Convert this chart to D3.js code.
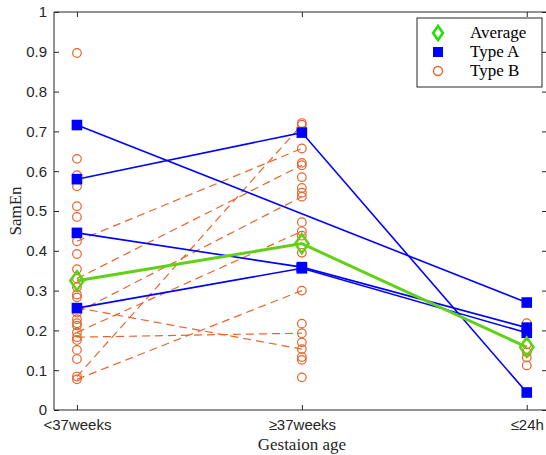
<!DOCTYPE html>
<html>
<head>
<meta charset="utf-8">
<script src="https://cdn.jsdelivr.net/npm/d3@7"></script>
<style>
  html, body { margin: 0; padding: 0; background: #fff; overflow: hidden; }
  svg { display: block; }
</style>
</head>
<body>
<svg id="chart" width="546" height="455"></svg>
<script>
// ---- data ----
const categories = ["<37weeks", "\u226537weeks", "\u226424h"];
const yTicks = [0, 0.1, 0.2, 0.3, 0.4, 0.5, 0.6, 0.7, 0.8, 0.9, 1];
const yTickLabels = ["0", "0.1", "0.2", "0.3", "0.4", "0.5", "0.6", "0.7", "0.8", "0.9", "1"];

const average = [0.325, 0.418, 0.158];

// Type A subjects: [<37weeks, >=37weeks, <=24h]
const typeA1 = [0.716, null, 0.270];
const typeA2 = [0.580, 0.697, 0.044];
const typeA3 = [0.445, 0.359, 0.207];
const typeA4 = [0.256, 0.356, 0.194];

// Type B subjects with two measurements (connected)
const typeB1 = [0.424, 0.657, null];
const typeB2 = [0.330, 0.615, null];
const typeB3 = [0.245, 0.536, null];
const typeB4 = [0.084, 0.717, null];
const typeB5 = [0.195, 0.449, null];
const typeB6 = [0.077, 0.300, null];
const typeB7 = [0.183, 0.193, null];
const typeB8 = [0.257, 0.153, null];

// Type B single measurements
const typeBLeft = [0.897, 0.631, 0.590, 0.562, 0.512, 0.485, 0.392, 0.354, 0.309, 0.290, 0.283, 0.228, 0.218, 0.212, 0.176, 0.151, 0.128];
const typeBMid = [0.721, 0.621, 0.585, 0.558, 0.546, 0.472, 0.438, 0.395, 0.217, 0.170, 0.133, 0.126, 0.082];
const typeBRight = [0.218, 0.165, 0.145, 0.132, 0.112];

const legendLabels = ["Average", "Type A", "Type B"];

// ---- layout ----
const svg = d3.select("#chart");
const mLeft = 54, mRight = 547, mTop = 12, mBottom = 410;
const axisColor = "#262626";
const blue = "#0000ff";
const orange = "#e8642c";
const green = "#62d016";
const sansFont = "'Liberation Sans', Arial, Helvetica, sans-serif";
const serifFont = "'Liberation Serif', 'Times New Roman', serif";

const x = d3.scaleLinear().domain([0.898, 3.09]).range([mLeft, mRight]);
const y = d3.scaleLinear().domain([0, 1]).range([mBottom, mTop]);

const typeA = [typeA1, typeA2, typeA3, typeA4];
const typeBPairs = [typeB1, typeB2, typeB3, typeB4, typeB5, typeB6, typeB7, typeB8];

const toPts = arr => arr.map((v, i) => ({i: i + 1, v})).filter(d => d.v !== null);
const line = d3.line().x(d => x(d.i)).y(d => y(d.v));

// clip
svg.append("defs").append("clipPath").attr("id", "clip")
  .append("rect").attr("x", mLeft).attr("y", mTop).attr("width", mRight - mLeft).attr("height", mBottom - mTop);

const plot = svg.append("g").attr("clip-path", "url(#clip)");

// Type B dashed lines
typeBPairs.forEach(s => {
  plot.append("path").datum(toPts(s)).attr("d", line)
    .attr("fill", "none").attr("stroke", orange).attr("stroke-width", 1.2)
    .attr("stroke-dasharray", "8,5");
});
// Type B circles
const bPts = [];
typeBPairs.forEach(s => toPts(s).forEach(p => bPts.push(p)));
typeBLeft.forEach(v => bPts.push({i: 1, v}));
typeBMid.forEach(v => bPts.push({i: 2, v}));
typeBRight.forEach(v => bPts.push({i: 3, v}));
plot.selectAll("circle.b").data(bPts).enter().append("circle")
  .attr("cx", d => x(d.i)).attr("cy", d => y(d.v)).attr("r", 4.3)
  .attr("fill", "none").attr("stroke", orange).attr("stroke-width", 1.2);

// Type A lines and squares
typeA.forEach(s => {
  const pts = toPts(s);
  plot.append("path").datum(pts).attr("d", line)
    .attr("fill", "none").attr("stroke", blue).attr("stroke-width", 1.6);
  plot.selectAll(null).data(pts).enter().append("rect")
    .attr("x", d => x(d.i) - 5.3).attr("y", d => y(d.v) - 5.3)
    .attr("width", 10.6).attr("height", 10.6).attr("fill", blue);
});

// Average
const avgPts = toPts(average);
plot.append("path").datum(avgPts).attr("d", line)
  .attr("fill", "none").attr("stroke", green).attr("stroke-width", 3);
const diamond = (cx, cy, r) => `M${cx},${cy - r}L${cx + r * 0.7},${cy}L${cx},${cy + r}L${cx - r * 0.7},${cy}Z`;
plot.selectAll(null).data(avgPts).enter().append("path")
  .attr("d", d => diamond(x(d.i), y(d.v), 9.5))
  .attr("fill", "none").attr("stroke", green).attr("stroke-width", 2.6);

// ---- axes ----
const ax = svg.append("g");
ax.append("line").attr("x1", mLeft).attr("x2", mRight).attr("y1", mBottom).attr("y2", mBottom).attr("stroke", axisColor);
ax.append("line").attr("x1", mLeft).attr("x2", mRight).attr("y1", mTop).attr("y2", mTop).attr("stroke", axisColor);
ax.append("line").attr("x1", mLeft).attr("x2", mLeft).attr("y1", mTop).attr("y2", mBottom).attr("stroke", axisColor);
ax.append("line").attr("x1", mRight).attr("x2", mRight).attr("y1", mTop).attr("y2", mBottom).attr("stroke", axisColor);

const yAxis = d3.axisLeft(y).tickValues(yTicks).tickSize(-5).tickPadding(7)
  .tickFormat((d, i) => yTickLabels[i]);
const yG = svg.append("g").attr("transform", `translate(${mLeft},0)`).call(yAxis);
yG.select(".domain").remove();
yG.selectAll("line").attr("stroke", axisColor);
yG.selectAll("text").attr("fill", axisColor).style("font-family", sansFont).style("font-size", "15px");

const yAxisR = d3.axisRight(y).tickValues(yTicks).tickSize(-5).tickFormat("");
const yR = svg.append("g").attr("transform", `translate(${mRight},0)`).call(yAxisR);
yR.select(".domain").remove();
yR.selectAll("line").attr("stroke", axisColor);

const xAxis = d3.axisBottom(x).tickValues([1, 2, 3]).tickSize(-5).tickPadding(9)
  .tickFormat((d, i) => categories[i]);
const xG = svg.append("g").attr("transform", `translate(0,${mBottom})`).call(xAxis);
xG.select(".domain").remove();
xG.selectAll("line").attr("stroke", axisColor);
xG.selectAll("text").attr("fill", axisColor).style("font-family", sansFont).style("font-size", "15px");

const xAxisT = d3.axisTop(x).tickValues([1, 2, 3]).tickSize(-5).tickFormat("");
const xT = svg.append("g").attr("transform", `translate(0,${mTop})`).call(xAxisT);
xT.select(".domain").remove();
xT.selectAll("line").attr("stroke", axisColor);

// axis titles
svg.append("text").attr("x", x(2)).attr("y", 450)
  .attr("text-anchor", "middle").attr("fill", axisColor)
  .style("font-family", serifFont).style("font-size", "17px")
  .text("Gestaion age");
svg.append("text").attr("transform", `translate(21,${(mTop + mBottom) / 2}) rotate(-90)`)
  .attr("text-anchor", "middle").attr("fill", axisColor)
  .style("font-family", serifFont).style("font-size", "17px")
  .text("SamEn");

// ---- legend ----
const lg = svg.append("g");
lg.append("rect").attr("x", 417).attr("y", 18).attr("width", 125).attr("height", 69)
  .attr("fill", "#fff").attr("stroke", axisColor).attr("stroke-width", 1);
const ly = [33, 52, 71];
const lx = 438;
lg.append("path").attr("d", diamond(lx, ly[0], 7)).attr("fill", "none").attr("stroke", "#22e000").attr("stroke-width", 2.6);
lg.append("rect").attr("x", lx - 5).attr("y", ly[1] - 5).attr("width", 10).attr("height", 10).attr("fill", blue);
lg.append("circle").attr("cx", lx).attr("cy", ly[2]).attr("r", 4.5).attr("fill", "none").attr("stroke", orange).attr("stroke-width", 1.4);
lg.selectAll("text.l").data(legendLabels).enter().append("text")
  .attr("x", 470).attr("y", (d, i) => ly[i] + 5)
  .attr("fill", "#000")
  .style("font-family", serifFont).style("font-size", "17px")
  .text(d => d);
</script>
</body>
</html>
